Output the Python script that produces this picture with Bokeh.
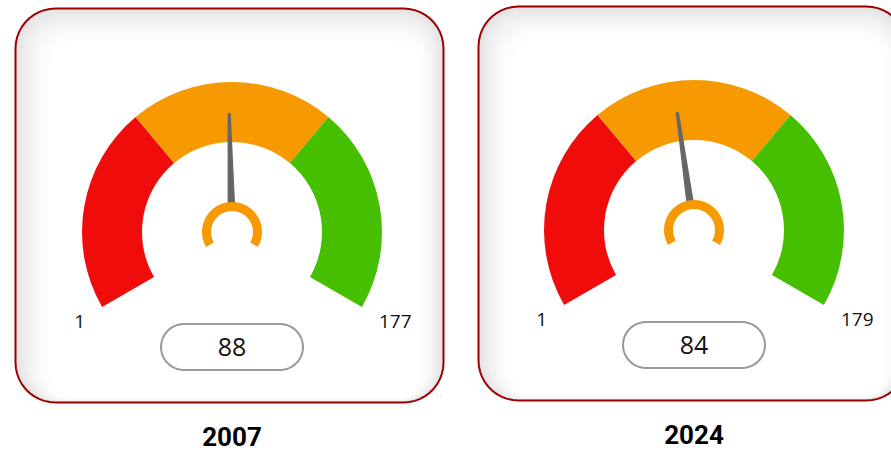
import numpy as np
from bokeh.plotting import figure
from bokeh.models import Range1d
from bokeh.core.properties import value
from bokeh.embed import file_html
from bokeh.resources import INLINE

# ---- data ----
years = ["2007", "2024"]
mins = [1, 1]
maxs = [177, 179]
vals = [88, 84]
band_colors = ["#F10C0C", "#F79A02", "#46BF00"]

# ---- layout (screen px) ----
W, H = 891, 451
cards = [(15, 8, 443, 402), (478, 6, 906, 400)]
centers = [(231.5, 231.5), (693.5, 229.5)]
R_OUT, R_IN = 150, 90

p = figure(width=W, height=H, output_backend="svg", toolbar_location=None,
           x_range=Range1d(0, W), y_range=Range1d(-H, 0),
           min_border=0, outline_line_color=None)
p.axis.visible = False
p.grid.visible = False
p.background_fill_color = "white"
p.border_fill_color = "white"


def rrect(x0, y0, x1, y1, r, n=12):
    xs, ys = [], []
    corners = [(x1 - r, y0 + r, -90, 0), (x1 - r, y1 - r, 0, 90),
               (x0 + r, y1 - r, 90, 180), (x0 + r, y0 + r, 180, 270)]
    for cx, cy, a0, a1 in corners:
        t = np.radians(np.linspace(a0, a1, n))
        xs.extend(cx + r * np.cos(t))
        ys.extend(cy + r * np.sin(t))
    return list(xs), [-y for y in ys]


def angle_of(v, lo, hi):
    return 210.0 - (v - lo) / (hi - lo) * 240.0


for (x0, y0, x1, y1) in cards:
    xs, ys = rrect(x0, y0, x1, y1, 40)
    p.patch(xs, ys, fill_color="#e2e2e2", line_color=None)
    K = 40
    for k in range(1, K + 1):
        f = k / K
        g = 0.885 + 0.115 * (1 - (1 - f) ** 2)
        c = "#%02x%02x%02x" % ((int(round(g * 255)),) * 3)
        xs, ys = rrect(x0 + 1.0 * k, y0 + 1.0 * k, x1 - 0.7 * k, y1 - 0.15 * k,
                       max(40 - 0.5 * k, 12))
        p.patch(xs, ys, fill_color=c, line_color=None)
    xs, ys = rrect(x0, y0, x1, y1, 40)
    p.patch(xs, ys, fill_color=None, line_color="#9B0000", line_width=2)

for i in range(len(years)):
    cx, cy = centers[i]
    lo, hi = mins[i], maxs[i]
    step = (hi - lo) / 3.0
    edges = [lo + j * step for j in range(4)]
    for j in range(3):
        p.annular_wedge(x=cx, y=-cy, inner_radius=R_IN, outer_radius=R_OUT,
                        start_angle=angle_of(edges[j + 1], lo, hi),
                        end_angle=angle_of(edges[j], lo, hi),
                        start_angle_units="deg", end_angle_units="deg",
                        fill_color=band_colors[j], line_color=None)
    # needle
    a = np.radians(angle_of(vals[i], lo, hi))
    ux, uy = np.cos(a), np.sin(a)
    px, py = -uy, ux
    r0, r1, w0, w1 = 24, 119, 3.8, 1.6
    nx = [cx + ux * r0 + px * w0, cx + ux * r1 + px * w1,
          cx + ux * r1 - px * w1, cx + ux * r0 - px * w0]
    ny = [-cy + uy * r0 + py * w0, -cy + uy * r1 + py * w1,
          -cy + uy * r1 - py * w1, -cy + uy * r0 - py * w0]
    p.patch(nx, ny, fill_color="#666666", line_color=None)
    # pivot ring
    p.annular_wedge(x=cx, y=-cy, inner_radius=21, outer_radius=30,
                    start_angle=-30, end_angle=210,
                    start_angle_units="deg", end_angle_units="deg",
                    fill_color="#F79A02", line_color=None)
    # min / max labels
    p.text(x=[cx - 147], y=[-(cy + 89)], text=[str(lo)], text_align="right",
           text_baseline="middle", text_font=value("Open Sans"),
           text_font_size=value("19px"), text_color="#111111")
    p.text(x=[cx + 147], y=[-(cy + 89)], text=[str(hi)], text_align="left",
           text_baseline="middle", text_font=value("Open Sans"),
           text_font_size=value("19px"), text_color="#111111")
    # value box
    bx, by = cx, cy + 115
    xs, ys = rrect(bx - 71, by - 23, bx + 71, by + 23, 23)
    p.patch(xs, ys, fill_color="white", line_color="#999999", line_width=2)
    p.text(x=[bx], y=[-by], text=[str(vals[i])], text_align="center",
           text_baseline="middle", text_font=value("Open Sans"),
           text_font_size=value("25px"), text_color="#111111")
    # title
    p.text(x=[cx], y=[-(cy + 204)], text=[years[i]], text_align="center",
           text_baseline="middle", text_font=value("Roboto"),
           text_font_style="bold", text_font_size=value("26px"),
           text_color="#000000")

open("out.html", "w").write(file_html(p, INLINE))
